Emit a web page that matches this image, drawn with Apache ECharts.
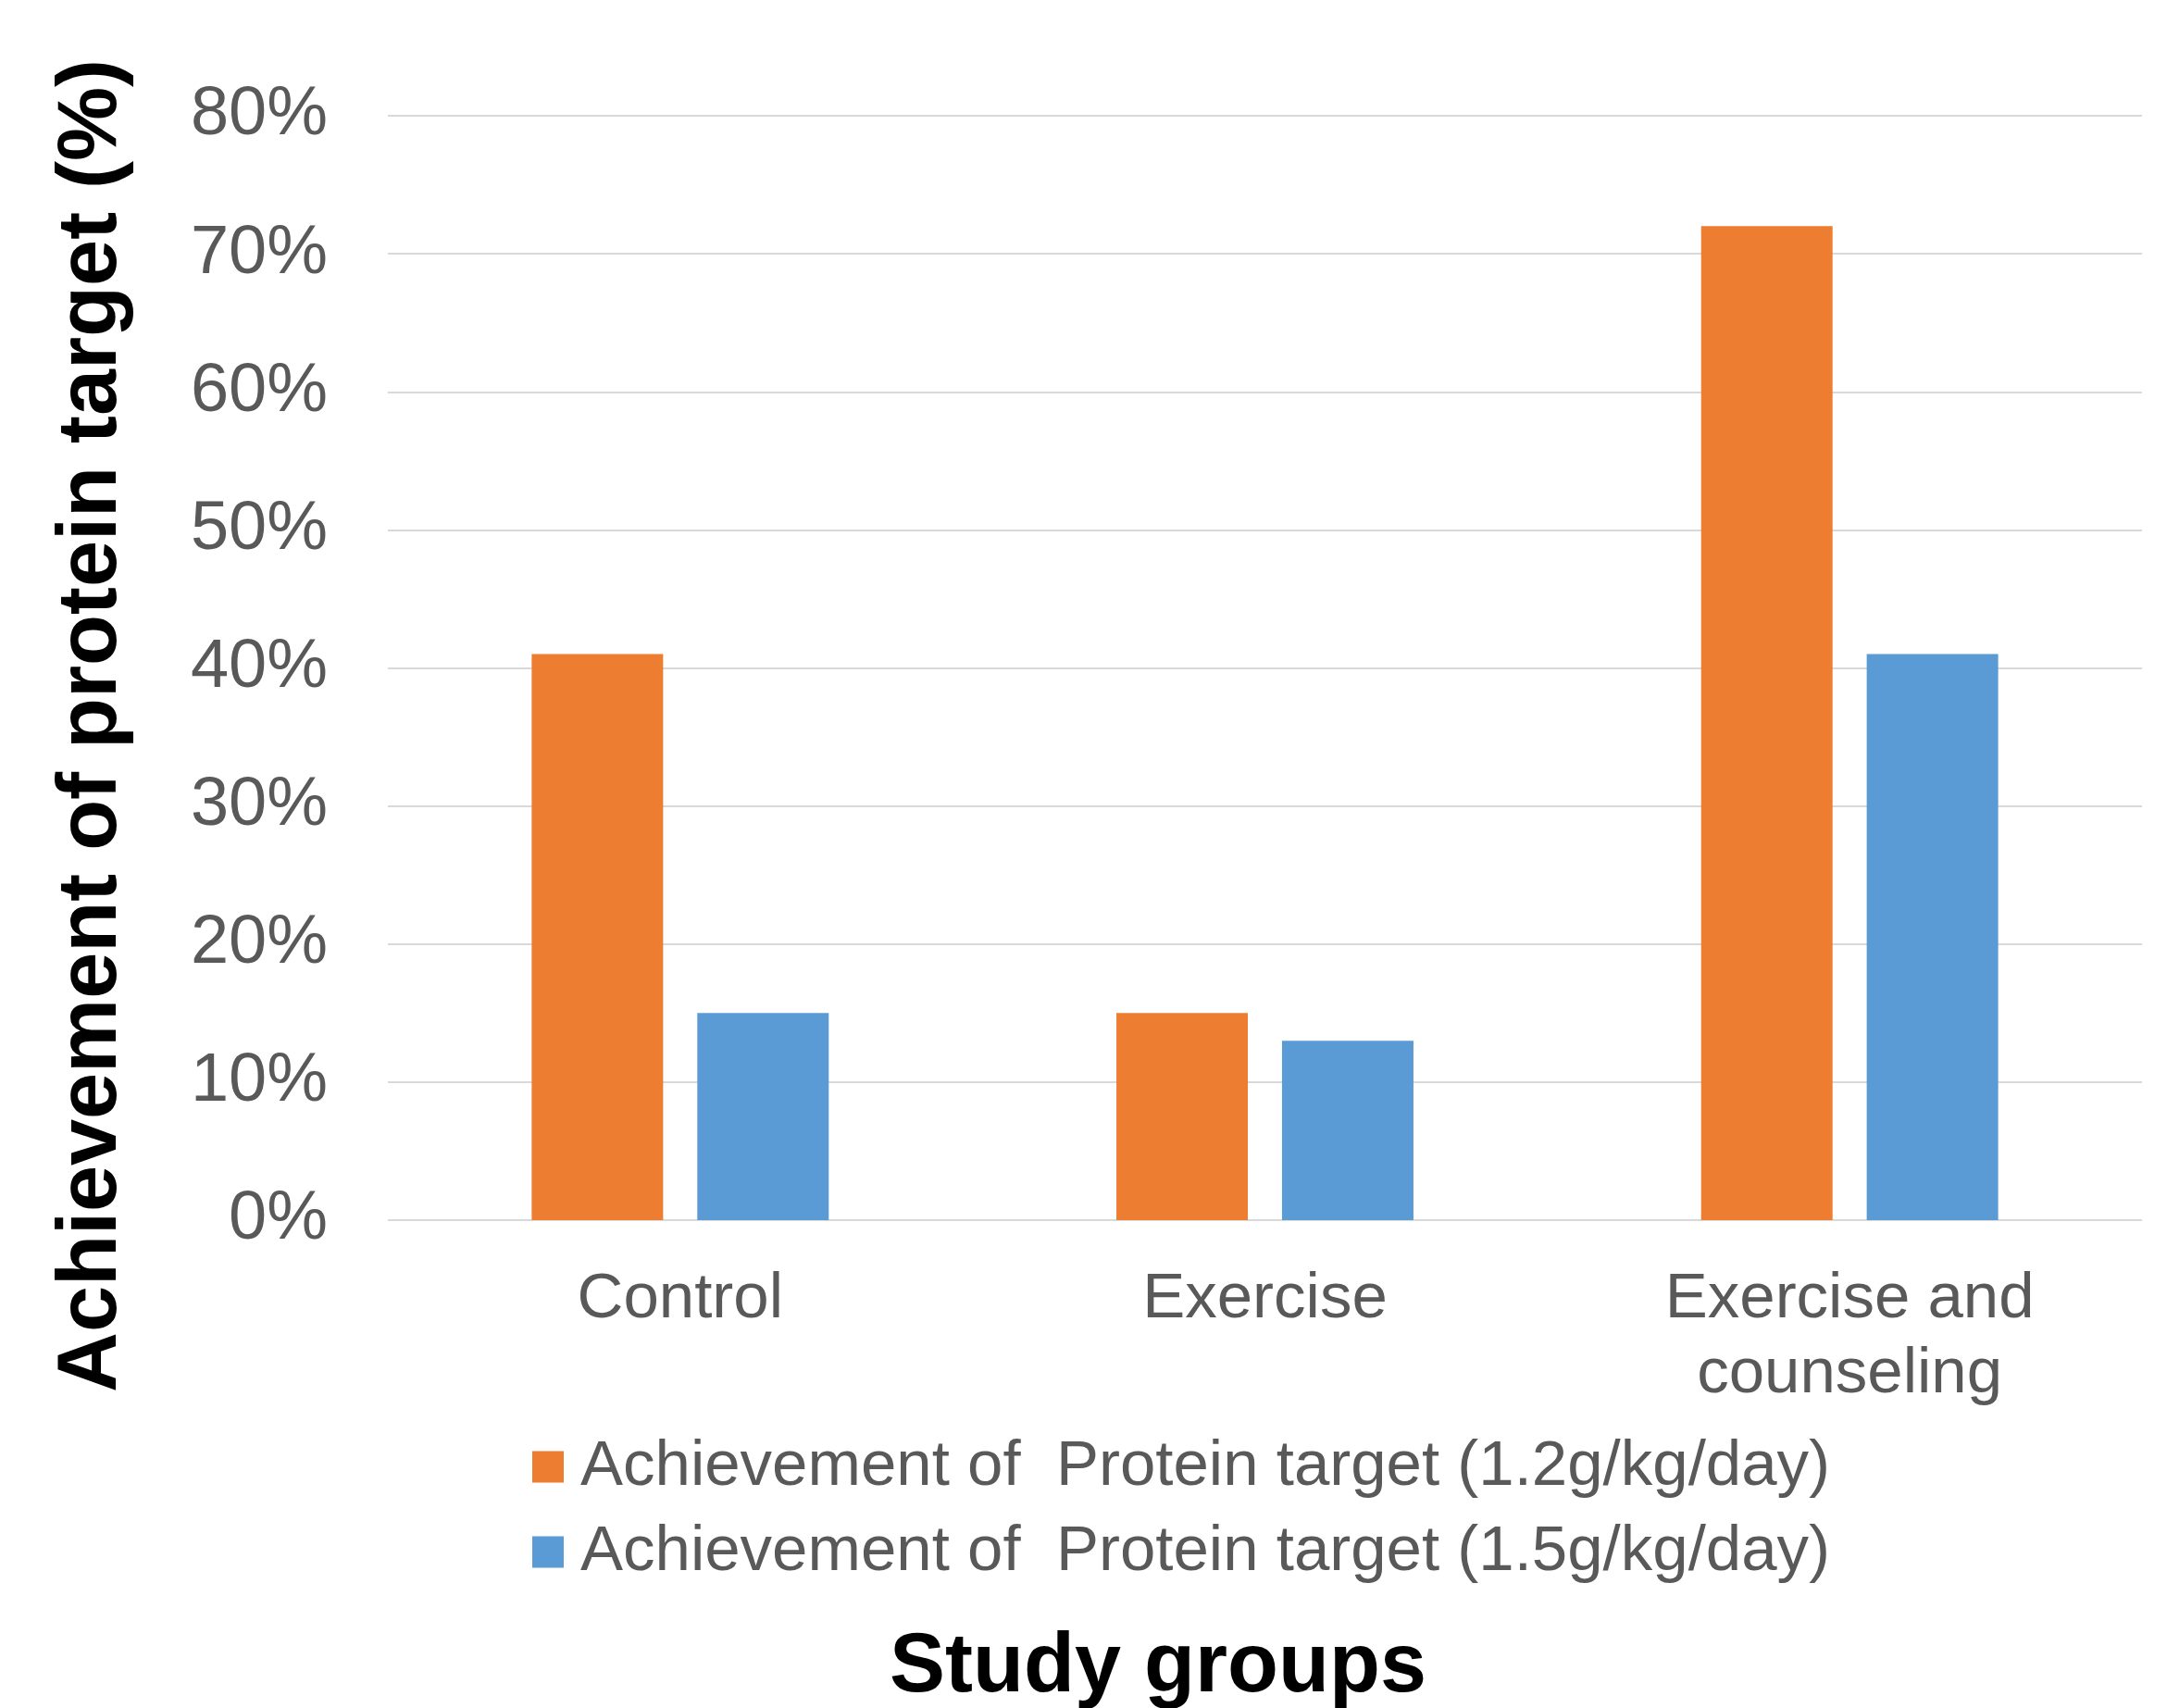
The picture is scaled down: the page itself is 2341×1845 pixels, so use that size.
<!DOCTYPE html>
<html>
<head>
<meta charset="utf-8">
<style>
  html, body { margin: 0; padding: 0; background: #ffffff; }
  #chart { width: 2341px; height: 1845px; }
</style>
<script src="https://cdn.jsdelivr.net/npm/echarts@6/dist/echarts.min.js"></script>
</head>
<body>
<div id="chart"></div>
<script>
// Study groups and the share of participants reaching each protein target
const groups = ['Control', 'Exercise', 'Exercise and\ncounseling'];
const target12 = [41, 15, 72];   // % reaching 1.2 g/kg/day
const target15 = [15, 13, 41];   // % reaching 1.5 g/kg/day
const seriesNames = [
  'Achievement of  Protein target (1.2g/kg/day)',
  'Achievement of  Protein target (1.5g/kg/day)'
];
const yMin = 0, yMax = 80, yStep = 10;

const FONT = '"Liberation Sans", Arial, Helvetica, sans-serif';
const chart = echarts.init(document.getElementById('chart'), null, { renderer: 'canvas' });

chart.setOption({
  animation: false,
  backgroundColor: '#ffffff',
  color: ['#ED7D31', '#5B9BD5'],
  grid: { left: 419, right: 27, top: 125, bottom: 527, containLabel: false },
  xAxis: {
    type: 'category',
    data: groups,
    axisLine: { show: false },
    axisTick: { show: false },
    axisLabel: {
      color: '#595959', fontFamily: FONT, fontSize: 69, lineHeight: 81,
      margin: 45, interval: 0
    }
  },
  yAxis: {
    type: 'value',
    min: yMin, max: yMax, interval: yStep,
    axisLine: { show: false },
    axisTick: { show: false },
    axisLabel: {
      color: '#595959', fontFamily: FONT, fontSize: 74, margin: 65,
      formatter: '{value}%'
    },
    splitLine: { lineStyle: { color: '#D9D9D9', width: 2 } }
  },
  legend: {
    orient: 'vertical',
    left: 570, top: 1545,
    icon: 'rect',
    itemWidth: 34, itemHeight: 34,
    itemGap: 23,
    textStyle: {
      color: '#595959', fontFamily: FONT, fontSize: 69,
      padding: [0, 0, 0, 13]
    },
    data: seriesNames
  },
  series: [
    { name: seriesNames[0], type: 'bar', data: target12, barWidth: 142, barGap: '26%' },
    { name: seriesNames[1], type: 'bar', data: target15, barWidth: 142, barGap: '26%' }
  ],
  graphic: [
    {
      type: 'text', x: 100, y: 784, rotation: Math.PI / 2,
      style: {
        text: 'Achievement of protein target (%)',
        font: 'bold 90px ' + FONT, fill: '#000000',
        textAlign: 'center', textVerticalAlign: 'middle'
      }
    },
    {
      type: 'text', x: 1251, y: 1802,
      style: {
        text: 'Study groups',
        font: 'bold 90px ' + FONT, fill: '#000000',
        textAlign: 'center', textVerticalAlign: 'middle'
      }
    }
  ]
});
</script>
</body>
</html>
